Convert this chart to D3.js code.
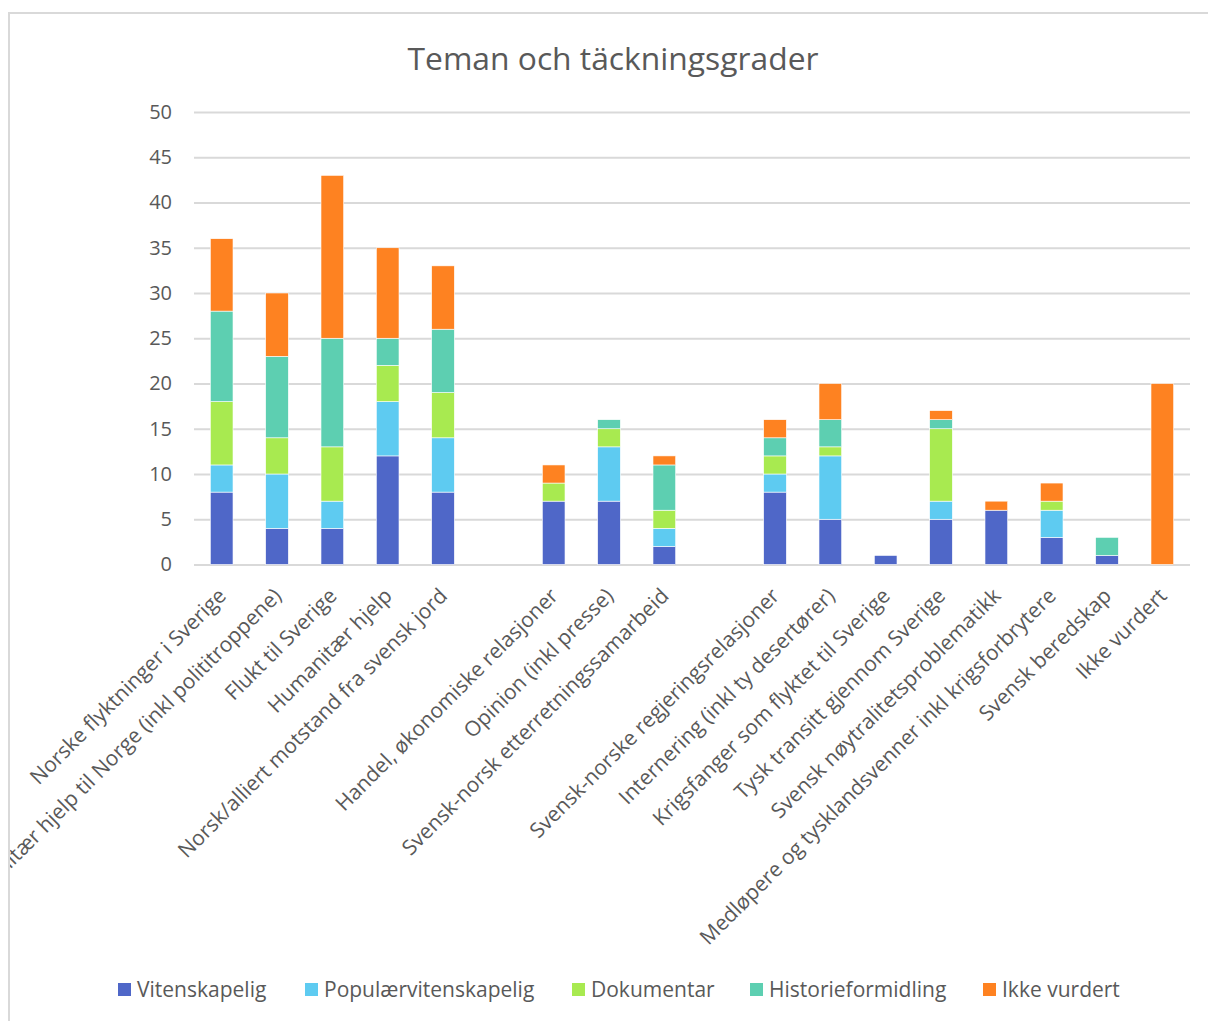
<!DOCTYPE html>
<html>
<head>
<meta charset="utf-8">
<script src="https://cdn.jsdelivr.net/npm/d3@7"></script>
<style>
  body { margin: 0; background: #fff; }
  text { font-family: "Open Sans", Calibri, sans-serif; fill: #595959; }
</style>
</head>
<body>
<div id="chart"></div>
<script>
const categories = [
  "Norske flyktninger i Sverige",
  "Militær hjelp til Norge (inkl polititroppene)",
  "Flukt til Sverige",
  "Humanitær hjelp",
  "Norsk/alliert motstand fra svensk jord",
  "",
  "Handel, økonomiske relasjoner",
  "Opinion (inkl presse)",
  "Svensk-norsk etterretningssamarbeid",
  " ",
  "Svensk-norske regjeringsrelasjoner",
  "Internering (inkl ty desertører)",
  "Krigsfanger som flyktet til Sverige",
  "Tysk transitt gjennom Sverige",
  "Svensk nøytralitetsproblematikk",
  "Medløpere og tysklandsvenner inkl krigsforbrytere",
  "Svensk beredskap",
  "Ikke vurdert"
];
const seriesNames = ["Vitenskapelig", "Populærvitenskapelig", "Dokumentar", "Historieformidling", "Ikke vurdert"];
const vitenskapelig        = [8, 4, 4, 12, 8, 0, 7, 7, 2, 0, 8, 5, 1, 5, 6, 3, 1, 0];
const populaervitenskapelig = [3, 6, 3, 6, 6, 0, 0, 6, 2, 0, 2, 7, 0, 2, 0, 3, 0, 0];
const dokumentar           = [7, 4, 6, 4, 5, 0, 2, 2, 2, 0, 2, 1, 0, 8, 0, 1, 0, 0];
const historieformidling   = [10, 9, 12, 3, 7, 0, 0, 1, 5, 0, 2, 3, 0, 1, 0, 0, 2, 0];
const ikkeVurdert          = [8, 7, 18, 10, 7, 0, 2, 0, 1, 0, 2, 4, 0, 1, 1, 2, 0, 20];
const yTicks = [0, 5, 10, 15, 20, 25, 30, 35, 40, 45, 50];
const colors = ["#4f67c8", "#5ecbf1", "#a8ea50", "#5dcfb1", "#fe8221"];

const width = 1208, height = 1021;
const plot = { left: 194, right: 1190, top: 112, bottom: 564.5 };

const svg = d3.select("#chart").append("svg")
  .attr("width", width)
  .attr("height", height);

svg.append("clipPath").attr("id", "area")
  .append("rect").attr("x", 10).attr("y", 14).attr("width", width).attr("height", height);

// chart frame (left and top edges visible)
svg.append("path")
  .attr("d", `M9,${height}V13H${width}`)
  .attr("fill", "none")
  .attr("stroke", "#d9d9d9")
  .attr("stroke-width", 2);

const g = svg.append("g").attr("clip-path", "url(#area)");

const table = categories.map((c, i) => ({
  cat: c,
  [seriesNames[0]]: vitenskapelig[i],
  [seriesNames[1]]: populaervitenskapelig[i],
  [seriesNames[2]]: dokumentar[i],
  [seriesNames[3]]: historieformidling[i],
  [seriesNames[4]]: ikkeVurdert[i]
}));

const x = d3.scaleBand()
  .domain(categories)
  .range([plot.left, plot.right])
  .paddingInner(0.59)
  .paddingOuter(0.295);

const y = d3.scaleLinear()
  .domain([0, 50])
  .range([plot.bottom, plot.top]);

const color = d3.scaleOrdinal().domain(seriesNames).range(colors);

// title
g.append("text")
  .attr("x", 613)
  .attr("y", 70)
  .attr("text-anchor", "middle")
  .style("font-size", "31.8px")
  .text("Teman och täckningsgrader");

// gridlines + y labels
const yAxis = g.append("g")
  .attr("transform", `translate(${plot.left},0)`)
  .call(d3.axisLeft(y).tickValues(yTicks).tickSize(-(plot.right - plot.left)).tickPadding(22));
yAxis.select(".domain").remove();
yAxis.selectAll(".tick line").attr("stroke", "#d9d9d9").attr("stroke-width", 2);
yAxis.selectAll(".tick text")
  .attr("fill", "#595959")
  .style("font-size", "20px")
  .style("font-family", "\"Open Sans\", Calibri, sans-serif");

// stacked bars
const stack = d3.stack().keys(seriesNames)(table);
g.selectAll("g.series")
  .data(stack)
  .enter()
  .append("g")
  .attr("class", "series")
  .attr("fill", d => color(d.key))
  .selectAll("rect")
  .data(d => d.filter(s => s[1] - s[0] > 0))
  .enter()
  .append("rect")
  .attr("x", d => x(d.data.cat))
  .attr("width", x.bandwidth())
  .attr("y", d => y(d[1]))
  .attr("height", d => y(d[0]) - y(d[1]))
  .attr("stroke", "#fff")
  .attr("stroke-width", 0.6);

// category labels, rotated (the long second label runs off the chart's left edge, as in the source)
g.selectAll("text.cat")
  .data(categories)
  .enter()
  .append("text")
  .attr("class", "cat")
  .attr("transform", d => `translate(${x(d) + x.bandwidth() / 2 - 5},${plot.bottom + 22}) rotate(-45)`)
  .attr("text-anchor", "end")
  .attr("dy", "0.72em")
  .style("font-size", "21px")
  .text(d => d.trim());

// legend
const legendX = [118, 305, 572, 750, 983];
const legend = g.selectAll("g.legend")
  .data(seriesNames)
  .enter()
  .append("g")
  .attr("class", "legend")
  .attr("transform", (d, i) => `translate(${legendX[i]},983)`);
legend.append("rect")
  .attr("width", 13)
  .attr("height", 13)
  .attr("fill", d => color(d));
legend.append("text")
  .attr("x", 19)
  .attr("y", 14)
  .style("font-size", "21px")
  .text(d => d);
</script>
</body>
</html>
